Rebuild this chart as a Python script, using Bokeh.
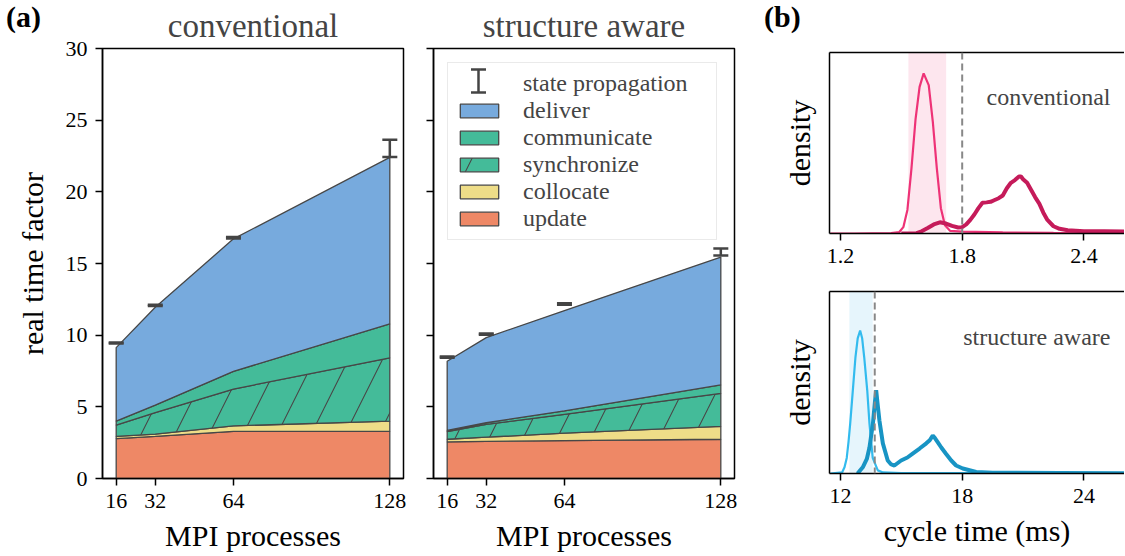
import numpy as np
from bokeh.plotting import figure
from bokeh.layouts import row, column
from bokeh.models import (ColumnDataSource, Whisker, TeeHead, FixedTicker, Legend, LegendItem,
                          Label, BoxAnnotation, Span, LinearAxis, Range1d, Div)
from bokeh.embed import file_html
from bokeh.resources import INLINE

FONT = "Liberation Serif"

# ---------------- data: panel (a) ----------------
procs = [16, 32, 64, 128]
layer_names = ["update", "collocate", "synchronize", "communicate", "deliver"]

conv_update = [2.78, 2.94, 3.29, 3.29]
conv_collocate = [0.16, 0.16, 0.38, 0.71]
conv_synchronize = [0.78, 1.50, 2.57, 4.42]
conv_communicate = [0.28, 0.52, 1.24, 2.36]
conv_deliver = [5.13, 6.83, 9.24, 11.62]
conv_state = [9.45, 12.08, 16.80, 23.03]
conv_state_err = [0.04, 0.04, 0.05, 0.60]

sa_update = [2.55, 2.59, 2.64, 2.74]
sa_collocate = [0.19, 0.29, 0.52, 0.89]
sa_synchronize = [0.54, 0.89, 1.32, 2.31]
sa_communicate = [0.07, 0.12, 0.24, 0.59]
sa_deliver = [4.83, 5.94, 7.00, 8.92]
sa_state = [8.47, 10.07, 12.17, 15.80]
sa_state_err = [0.04, 0.04, 0.05, 0.24]

y_ticks_a = [0, 5, 10, 15, 20, 25, 30]

# ---------------- data: panel (b) ----------------
conv_fast_x = [1.15, 1.27, 1.45, 1.49, 1.51, 1.53, 1.55, 1.57, 1.59, 1.61, 1.635, 1.655,
               1.675, 1.695, 1.715, 1.74, 1.80, 2.00, 2.25, 2.60]
conv_fast_y = [0.0, 0.0, 0.02, 0.08, 0.35, 1.3, 3.6, 6.3, 8.1, 8.85, 8.2, 6.2,
               3.6, 1.4, 0.45, 0.15, 0.10, 0.06, 0.03, 0.0]
conv_slow_x = [1.50, 1.575, 1.60, 1.63, 1.66, 1.69, 1.72, 1.75, 1.78, 1.80, 1.82, 1.84,
               1.86, 1.88, 1.90, 1.92, 1.94, 1.96, 1.98, 2.00, 2.02, 2.04, 2.06, 2.08,
               2.09, 2.10, 2.12, 2.14, 2.16, 2.18, 2.20, 2.22, 2.25, 2.28, 2.32, 2.40,
               2.50, 2.60]
conv_slow_y = [0.0, 0.02, 0.12, 0.30, 0.50, 0.62, 0.55, 0.42, 0.33, 0.35, 0.50, 0.75,
               1.05, 1.40, 1.70, 1.72, 1.75, 1.85, 1.95, 2.10, 2.50, 2.80, 2.95, 3.15,
               3.15, 3.00, 2.80, 2.40, 2.00, 1.65, 1.15, 0.75, 0.40, 0.26, 0.18, 0.13,
               0.12, 0.11]
conv_band = [1.535, 1.721]
conv_threshold = 1.8

sa_fast_x = [11.5, 12.08, 12.2, 12.31, 12.4, 12.48, 12.61, 12.74, 12.85, 12.97, 13.07,
             13.17, 13.32, 13.43, 13.59, 13.84, 14.1, 15.0, 20.0, 26.0]
sa_fast_y = [0.0, 0.01, 0.06, 0.15, 0.31, 0.48, 0.80, 1.12, 1.30, 1.375, 1.30,
             1.12, 0.80, 0.48, 0.15, 0.03, 0.01, 0.005, 0.003, 0.003]
sa_slow_x = [12.84, 13.1, 13.3, 13.43, 13.6, 13.7, 13.76, 13.83, 13.92, 14.09, 14.33,
             14.5, 14.66, 14.99, 15.3, 15.56, 15.9, 16.23, 16.4, 16.55, 16.64, 16.8,
             16.97, 17.2, 17.46, 17.7, 18.03, 18.69, 19.5, 22.8, 26.0]
sa_slow_y = [0.0, 0.06, 0.14, 0.25, 0.48, 0.69, 0.80, 0.67, 0.51, 0.29, 0.125,
             0.087, 0.077, 0.125, 0.154, 0.192, 0.24, 0.29, 0.32, 0.365, 0.346, 0.30,
             0.25, 0.19, 0.125, 0.077, 0.048, 0.014, 0.007, 0.005, 0.003]
sa_band = [12.44, 13.59]
sa_threshold = 13.69

# ---------------- styles ----------------
layer_colors = {"update": "#EE8866", "collocate": "#EEDD88", "synchronize": "#44BB99",
                "communicate": "#44BB99", "deliver": "#77AADD"}
EDGE = "#474747"


def style_axes(p, tick_size="22px", label_size="30px"):
    for ax in p.axis:
        ax.major_tick_out = 7
        ax.major_tick_in = 0
        ax.minor_tick_line_color = None
        ax.axis_line_width = 1.5
        ax.axis_line_color = "black"
        ax.major_tick_line_width = 1.5
        ax.major_tick_line_color = "black"
        ax.major_label_text_font = FONT
        ax.major_label_text_font_size = tick_size
        ax.major_label_text_color = "black"
        ax.major_label_standoff = 8
        ax.axis_label_text_font = FONT
        ax.axis_label_text_font_size = label_size
        ax.axis_label_text_font_style = "normal"
        ax.axis_label_text_color = "black"
    p.xgrid.visible = False
    p.ygrid.visible = False


def stack_panel(title, values, state, state_err, left_border, right_border, ylabels):
    p = figure(frame_width=301, frame_height=430, output_backend="svg", toolbar_location=None,
               x_range=Range1d(10.4, 133.6), y_range=Range1d(0, 30),
               min_border_left=left_border, min_border_right=right_border,
               min_border_top=48, min_border_bottom=78)
    p.outline_line_color = "black"
    p.outline_line_width = 1.5
    p.title.text = title
    p.title.align = "center"
    p.title.text_font = FONT
    p.title.text_font_size = "33px"
    p.title.text_font_style = "normal"
    p.title.standoff = 10
    renderers = {}
    bottom = np.zeros(len(procs))
    for name, vals in zip(layer_names, values):
        top = bottom + np.array(vals)
        xs = list(procs) + list(procs[::-1])
        ys = list(top) + list(bottom[::-1])
        kw = {}
        if name == "synchronize":
            kw = dict(hatch_pattern="/", hatch_scale=68, hatch_color=EDGE, hatch_weight=1.1)
        renderers[name] = p.patch(xs, ys, fill_color=layer_colors[name], fill_alpha=1.0,
                                  line_color=EDGE, line_width=1.3, **kw)
        bottom = top
    src = ColumnDataSource(dict(x=procs,
                                lo=[s - e for s, e in zip(state, state_err)],
                                hi=[s + e for s, e in zip(state, state_err)]))
    w = Whisker(source=src, base="x", lower="lo", upper="hi", level="overlay",
                line_color="#444444", line_width=2.5,
                upper_head=TeeHead(size=15, line_color="#444444", line_width=2.5),
                lower_head=TeeHead(size=15, line_color="#444444", line_width=2.5))
    p.add_layout(w)
    style_axes(p)
    p.xaxis.ticker = FixedTicker(ticks=procs)
    p.yaxis.ticker = FixedTicker(ticks=y_ticks_a)
    p.xaxis.axis_label = "MPI processes"
    p.xaxis.axis_label_standoff = 8
    if ylabels:
        p.yaxis.axis_label = "real time factor"
        p.yaxis.axis_label_standoff = 14
    else:
        p.yaxis.major_label_overrides = {t: "" for t in y_ticks_a}
        p.yaxis.major_label_standoff = 0
    return p, renderers


p1, r1 = stack_panel("conventional",
                     [conv_update, conv_collocate, conv_synchronize, conv_communicate, conv_deliver],
                     conv_state, conv_state_err, 102, 15, True)
p2, r2 = stack_panel("structure aware",
                     [sa_update, sa_collocate, sa_synchronize, sa_communicate, sa_deliver],
                     sa_state, sa_state_err, 15, 25, False)

# legend in panel 2
dummy = p2.scatter(x=[np.nan], y=[np.nan], size=1, alpha=0)
items = [LegendItem(label="state propagation", renderers=[dummy])]
for name in ["deliver", "communicate", "synchronize", "collocate", "update"]:
    items.append(LegendItem(label=name, renderers=[r2[name]]))
legend = Legend(items=items, location="top_left", margin=14, padding=7,
                glyph_width=48, glyph_height=17, label_standoff=20, spacing=0,
                label_height=27, label_width=186, label_text_font=FONT,
                label_text_font_size="24px", label_text_baseline="middle",
                border_line_color="#d5d5d5", border_line_width=1.2,
                background_fill_alpha=0.0)
p2.add_layout(legend)
leg_src = ColumnDataSource(dict(b=[45], lo=[386], hi=[409]))
p2.add_layout(Whisker(source=leg_src, base="b", lower="lo", upper="hi",
                      base_units="screen", lower_units="screen", upper_units="screen",
                      level="overlay", line_color="#444444", line_width=2.5,
                      upper_head=TeeHead(size=15, line_color="#444444", line_width=2.5),
                      lower_head=TeeHead(size=15, line_color="#444444", line_width=2.5)))


# ---------------- panel (b) ----------------
def density_panel(xr, yr, ticks, band, thr, fast, slow, fast_color, slow_color, band_color,
                  text, top_border, bottom_border, height, xlabel):
    p = figure(frame_width=295, frame_height=height, output_backend="svg", toolbar_location=None,
               x_range=Range1d(*xr), y_range=Range1d(*yr),
               min_border_left=70, min_border_right=0,
               min_border_top=top_border, min_border_bottom=bottom_border)
    p.outline_line_color = None
    p.add_layout(BoxAnnotation(left=band[0], right=band[1], fill_color=band_color,
                               fill_alpha=1.0, line_color=None, level="underlay"))
    p.line(fast[0], fast[1], line_color=fast_color, line_width=2.2)
    p.line(slow[0], slow[1], line_color=slow_color, line_width=4)
    p.add_layout(Span(location=thr, dimension="height", line_color="#888888",
                      line_width=2, line_dash="7 4"))
    p.add_layout(Label(x=281, y=137, x_units="screen", y_units="screen", text=text,
                       text_font=FONT, text_font_size="24px", text_align="right",
                       text_baseline="alphabetic"))
    style_axes(p)
    xb = p.below[0]
    xb.ticker = FixedTicker(ticks=ticks)
    p.yaxis.ticker = FixedTicker(ticks=[])
    p.yaxis.axis_label = "density"
    p.yaxis.axis_label_standoff = 14
    if xlabel:
        xb.axis_label = xlabel
        xb.axis_label_standoff = 8
    top_axis = LinearAxis(ticker=FixedTicker(ticks=[]), axis_line_width=1.5,
                          axis_line_color="black", major_tick_out=0, major_tick_in=0,
                          major_label_standoff=0)
    p.add_layout(top_axis, "above")
    return p


pb1 = density_panel((1.146, 2.6), (0, 10.0), [1.2, 1.8, 2.4], conv_band, conv_threshold,
                    (conv_fast_x, conv_fast_y), (conv_slow_x, conv_slow_y),
                    "#EE3377", "#C51B5A", "#FDE6EE", "conventional", 52, 37, 181, None)
pb2 = density_panel((11.46, 26.0), (0, 1.75), [12, 18, 24], sa_band, sa_threshold,
                    (sa_fast_x, sa_fast_y), (sa_slow_x, sa_slow_y),
                    "#33BBEE", "#1894C4", "#E6F5FC", "structure aware", 21, 83, 182,
                    "cycle time (ms)")


# panel letters: absolutely positioned text over the layout's corners
def letter(text, left):
    return Div(text='<span style="font-family: \'Liberation Serif\'; font-size: 30px; '
                    'font-weight: bold; line-height: 1;">' + text + '</span>',
               width=45, height=34,
               styles={"position": "absolute", "left": f"{left}px", "top": "2px",
                       "margin": "0", "padding": "0"})


layout = row(p1, p2, column(pb1, pb2, spacing=0), letter("(a)", 6), letter("(b)", 764),
             spacing=0)
open("out.html", "w").write(file_html(layout, INLINE))
